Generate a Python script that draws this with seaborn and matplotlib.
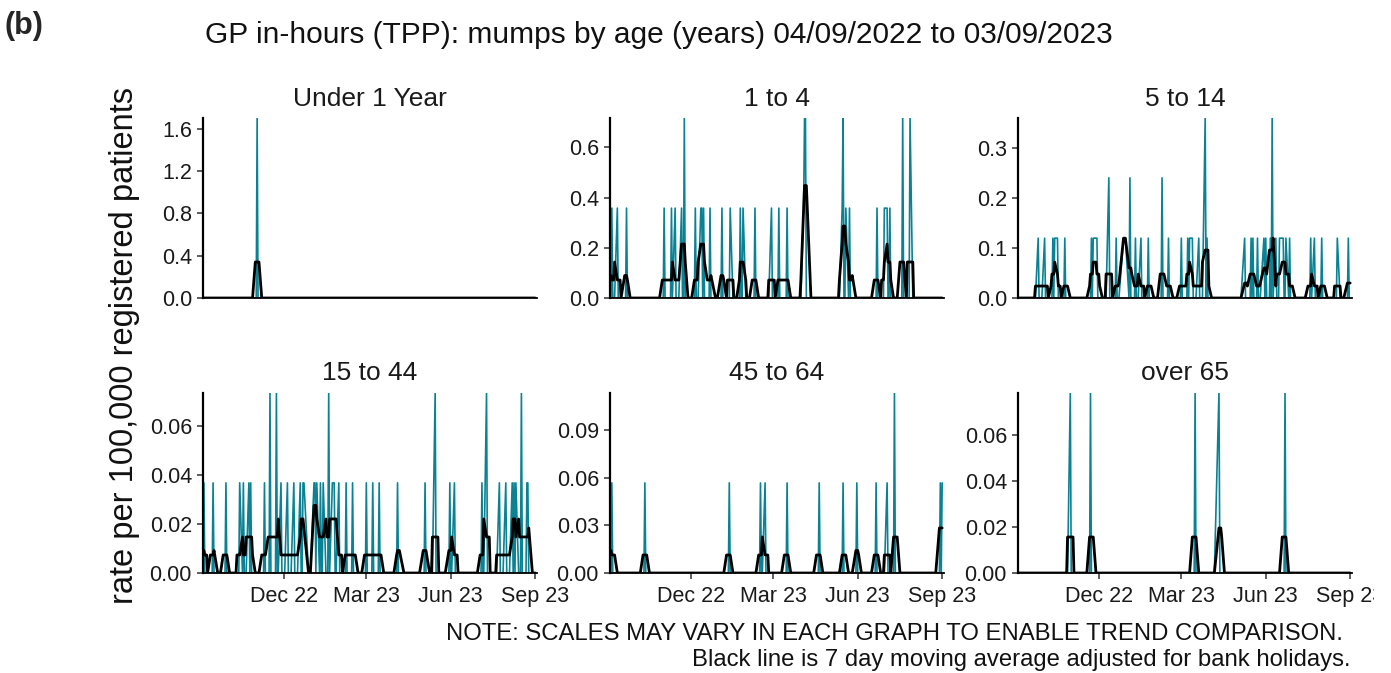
import numpy as np
import pandas as pd
import matplotlib
matplotlib.use("Agg")
import matplotlib.pyplot as plt
from matplotlib.transforms import Bbox
import seaborn as sns

sns.set_style("ticks")
plt.rcParams["font.family"] = ["Liberation Sans", "DejaVu Sans"]

# ---------------------------------------------------------------- data
start_date = "2022-09-04"
end_date = "2023-09-03"

# English bank holidays in the reporting year (GP surgeries closed)
bank_holidays = ["2022-09-19", "2022-12-26", "2022-12-27", "2023-01-02",
                 "2023-04-07", "2023-04-10", "2023-05-01", "2023-05-08",
                 "2023-05-29", "2023-08-28"]

age_groups = ["Under 1 Year", "1 to 4", "5 to 14", "15 to 44", "45 to 64", "over 65"]

# Daily consultation rates per 100,000 registered patients (days not listed are 0)
under1_dates = ["2022-11-02"]
under1_rates = [1.70]

age1_4_dates = ["2022-09-06", "2022-09-12", "2022-09-22", "2022-11-02", "2022-11-10",
                "2022-11-14", "2022-11-21", "2022-11-24", "2022-12-06", "2022-12-12",
                "2022-12-13", "2022-12-15", "2022-12-22", "2023-01-04", "2023-01-13",
                "2023-01-24", "2023-01-27", "2023-02-09", "2023-02-27", "2023-03-07",
                "2023-03-16", "2023-04-03", "2023-04-04", "2023-04-05", "2023-05-15",
                "2023-05-16", "2023-05-19", "2023-05-23", "2023-06-22", "2023-06-30",
                "2023-07-03", "2023-07-06", "2023-07-20", "2023-07-28"]
age1_4_rates = [0.358, 0.358, 0.358, 0.358, 0.358,
                0.358, 0.358, 0.717, 0.358, 0.358,
                0.358, 0.358, 0.358, 0.358, 0.358,
                0.358, 0.358, 0.358, 0.358, 0.358,
                0.358, 0.358, 0.717, 0.717, 0.358,
                0.717, 0.358, 0.358, 0.358, 0.358,
                0.358, 0.358, 0.717, 0.717]

age5_14_dates = ["2022-09-26", "2022-10-03", "2022-10-12", "2022-10-14", "2022-10-17",
                 "2022-10-25", "2022-11-23", "2022-11-25", "2022-11-28", "2022-11-29",
                 "2022-12-12", "2022-12-20", "2022-12-28", "2022-12-29", "2022-12-30",
                 "2023-01-04", "2023-01-10", "2023-01-16", "2023-01-24", "2023-02-08",
                 "2023-02-15", "2023-03-01", "2023-03-08", "2023-03-10", "2023-03-13",
                 "2023-03-20", "2023-03-27", "2023-03-29", "2023-05-09", "2023-05-16",
                 "2023-05-18", "2023-05-23", "2023-05-30", "2023-06-01", "2023-06-06",
                 "2023-06-08", "2023-06-12", "2023-06-16", "2023-06-19", "2023-06-20",
                 "2023-06-23", "2023-06-27", "2023-07-20", "2023-07-24", "2023-08-01",
                 "2023-08-18", "2023-08-30"]
age5_14_rates = [0.120, 0.120, 0.120, 0.120, 0.120,
                 0.120, 0.120, 0.120, 0.120, 0.120,
                 0.241, 0.120, 0.120, 0.120, 0.120,
                 0.241, 0.120, 0.120, 0.120, 0.241,
                 0.120, 0.120, 0.120, 0.120, 0.120,
                 0.120, 0.361, 0.120, 0.120, 0.120,
                 0.120, 0.120, 0.120, 0.120, 0.120,
                 0.361, 0.120, 0.120, 0.120, 0.120,
                 0.120, 0.120, 0.120, 0.120, 0.120,
                 0.120, 0.120]

age15_44_dates = ["2022-09-05", "2022-09-15", "2022-09-29", "2022-10-14", "2022-10-18",
                  "2022-10-24", "2022-10-26", "2022-11-10", "2022-11-16", "2022-11-23",
                  "2022-11-28", "2022-12-05", "2022-12-12", "2022-12-19", "2022-12-22",
                  "2022-12-23", "2023-01-03", "2023-01-04", "2023-01-06", "2023-01-10",
                  "2023-01-13", "2023-01-19", "2023-01-23", "2023-01-24", "2023-01-25",
                  "2023-01-30", "2023-02-07", "2023-02-14", "2023-03-01", "2023-03-08",
                  "2023-03-15", "2023-04-04", "2023-05-04", "2023-05-15", "2023-05-31",
                  "2023-06-05", "2023-07-05", "2023-07-10", "2023-07-24",
                  "2023-07-31", "2023-08-07", "2023-08-09", "2023-08-11", "2023-08-17",
                  "2023-08-23", "2023-08-24"]
age15_44_rates = [0.0367, 0.0367, 0.0367, 0.0367, 0.0367,
                  0.0367, 0.0367, 0.0367, 0.0733, 0.0733,
                  0.0367, 0.0367, 0.0367, 0.0367, 0.0367,
                  0.0367, 0.0367, 0.0367, 0.0367, 0.0367,
                  0.0367, 0.0733, 0.0367, 0.0367, 0.0367,
                  0.0367, 0.0367, 0.0367, 0.0367, 0.0367,
                  0.0367, 0.0367, 0.0367, 0.0733, 0.0367,
                  0.0367, 0.0367, 0.0733, 0.0367,
                  0.0367, 0.0367, 0.0367, 0.0367, 0.0733,
                  0.0367, 0.0367]

age45_64_dates = ["2022-09-06", "2022-10-12", "2023-01-12", "2023-02-15", "2023-02-20",
                  "2023-03-16", "2023-04-20", "2023-05-16", "2023-05-31", "2023-06-21",
                  "2023-07-03", "2023-07-11", "2023-08-30", "2023-09-01"]
age45_64_rates = [0.0568, 0.0568, 0.0568, 0.0568, 0.0568,
                  0.0568, 0.0568, 0.0568, 0.0568, 0.0568,
                  0.0568, 0.1135, 0.0568, 0.0568]

over65_dates = ["2022-10-31", "2022-11-22", "2023-03-16", "2023-04-11", "2023-06-22"]
over65_rates = [0.0784, 0.0784, 0.0784, 0.0784, 0.0784]

panel_dates = [under1_dates, age1_4_dates, age5_14_dates,
               age15_44_dates, age45_64_dates, over65_dates]
panel_rates = [under1_rates, age1_4_rates, age5_14_rates,
               age15_44_rates, age45_64_rates, over65_rates]

y_ticks = [[0.0, 0.4, 0.8, 1.2, 1.6], [0.0, 0.2, 0.4, 0.6], [0.0, 0.1, 0.2, 0.3],
           [0.00, 0.02, 0.04, 0.06], [0.00, 0.03, 0.06, 0.09], [0.00, 0.02, 0.04, 0.06]]
y_fmt = ["{:.1f}", "{:.1f}", "{:.1f}", "{:.2f}", "{:.2f}", "{:.2f}"]

x_tick_dates = ["2022-12-01", "2023-03-01", "2023-06-01", "2023-09-01"]
x_tick_labels = ["Dec 22", "Mar 23", "Jun 23", "Sep 23"]

title = "GP in-hours (TPP): mumps by age (years) 04/09/2022 to 03/09/2023"
y_label = "rate per 100,000 registered patients"
note_lines = ["NOTE: SCALES MAY VARY IN EACH GRAPH TO ENABLE TREND COMPARISON.",
              "Black line is 7 day moving average adjusted for bank holidays."]

# ---------------------------------------------------------------- series
calendar = pd.date_range(start_date, end_date, freq="D")
holidays = pd.to_datetime(bank_holidays)
working = (calendar.dayofweek < 5) & (~calendar.isin(holidays))


def build_series(dates, rates):
    daily = pd.Series(0.0, index=calendar)
    daily.loc[pd.to_datetime(dates)] = rates
    daily[~working] = 0.0
    # centred 7 day window, averaged over the working days it contains
    wsum = daily.rolling(7, center=True, min_periods=1).sum()
    wdays = pd.Series(working.astype(float), index=calendar).rolling(
        7, center=True, min_periods=1).sum()
    ma = wsum / wdays
    df = pd.DataFrame({"date": calendar, "rate": daily.values, "ma": ma.values})
    return df[working].reset_index(drop=True)


# ---------------------------------------------------------------- figure
W, H = 1391, 673
fig = plt.figure(figsize=(W / 100, H / 100), dpi=100)

teal = "#0A8294"
col_left = [203, 610, 1018]
col_width = 334
row_top = [118, 393]
row_height = 180
# the plotting region ends a little before the right edge of the canvas
canvas_clip = Bbox([[0, 0], [1374, H]])

for i, group in enumerate(age_groups):
    r, c = divmod(i, 3)
    ax = fig.add_axes([col_left[c] / W, 1 - (row_top[r] + row_height) / H,
                       col_width / W, row_height / H])
    df = build_series(panel_dates[i], panel_rates[i])
    sns.lineplot(data=df, x="date", y="rate", ax=ax, color=teal,
                 linewidth=1.2, estimator=None)
    sns.lineplot(data=df, x="date", y="ma", ax=ax, color="black",
                 linewidth=2.0, estimator=None)
    ax.set_xlim(pd.Timestamp(start_date), pd.Timestamp(end_date))
    ax.set_ylim(0, max(panel_rates[i]))
    ax.set_yticks(y_ticks[i])
    ax.set_yticklabels([y_fmt[i].format(v) for v in y_ticks[i]])
    ax.set_xticks(pd.to_datetime(x_tick_dates))
    ax.set_xticklabels(x_tick_labels)
    ax.set_xlabel("")
    ax.set_ylabel("")
    ax.set_title(group, fontsize=19, color="#1a1a1a", pad=9)
    for side in ("top", "right"):
        ax.spines[side].set_visible(False)
    ax.spines["left"].set_linewidth(1.6)
    ax.spines["left"].set_color("black")
    ax.spines["bottom"].set_linewidth(1.3)
    ax.spines["bottom"].set_color("black")
    ax.tick_params(axis="both", labelsize=15.5, colors="#333333",
                   labelcolor="#1a1a1a", length=4.5, width=1.1)
    ax.tick_params(axis="x", pad=5)
    if r == 0:
        ax.tick_params(axis="x", length=0, labelbottom=False)
    for lab in ax.get_xticklabels():
        lab.set_clip_box(canvas_clip)
        lab.set_clip_on(True)

fig.text(5 / W, 1 - 26 / H, "(b)", fontsize=22, fontweight="bold",
         ha="left", va="center")
fig.text(659 / W, 1 - 35 / H, title, fontsize=21.5, ha="center", va="center",
         color="#111111")
fig.text(125 / W, 1 - 345 / H, y_label, fontsize=23.5, rotation=90,
         ha="center", va="center", color="#111111")
fig.text(1343 / W, 1 - 634 / H, note_lines[0], fontsize=17.2, ha="right",
         va="center", color="#111111")
fig.text(1350 / W, 1 - 660 / H, note_lines[1], fontsize=17.2, ha="right",
         va="center", color="#111111")

fig.savefig("out.png", dpi=100, facecolor="white")
